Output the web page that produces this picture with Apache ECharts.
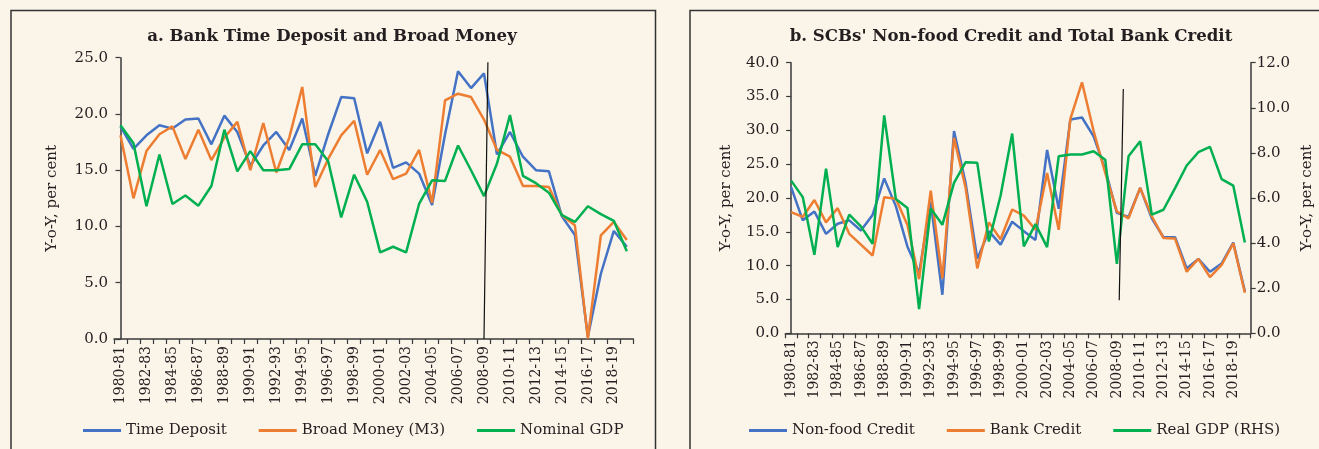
<!DOCTYPE html>
<html>
<head>
<meta charset="utf-8">
<script src="https://cdn.jsdelivr.net/npm/echarts@6/dist/echarts.min.js"></script>
<style>
  html, body { margin: 0; padding: 0; background: #faf4e9; }
  #chart { width: 1319px; height: 449px; }
</style>
</head>
<body>
<div id="chart"></div>
<script>
/* ============================================================
   Two panels: a. time deposit / M3 / nominal GDP
               b. non-food credit / bank credit / real GDP (RHS)
   ============================================================ */

var years = [
  "1980-81","1981-82","1982-83","1983-84","1984-85","1985-86","1986-87","1987-88",
  "1988-89","1989-90","1990-91","1991-92","1992-93","1993-94","1994-95","1995-96",
  "1996-97","1997-98","1998-99","1999-00","2000-01","2001-02","2002-03","2003-04",
  "2004-05","2005-06","2006-07","2007-08","2008-09","2009-10","2010-11","2011-12",
  "2012-13","2013-14","2014-15","2015-16","2016-17","2017-18","2018-19","2019-20"
];

// ---- panel a (per cent) ----
var timeDeposit = [18.9,16.9,18.1,19.0,18.7,19.5,19.6,17.3,19.85,18.4,15.4,17.2,18.4,16.8,19.6,14.5,18.2,21.5,21.4,16.5,
                   19.3,15.2,15.7,14.7,11.9,18.2,23.8,22.3,23.6,16.4,18.4,16.2,15.0,14.9,10.9,9.25,0.2,5.8,9.6,8.2];
var broadMoney  = [18.1,12.5,16.7,18.2,18.9,16.0,18.6,15.9,17.9,19.3,15.0,19.2,14.8,17.9,22.4,13.5,16.0,18.1,19.4,14.6,
                   16.8,14.2,14.7,16.8,12.1,21.2,21.8,21.5,19.5,16.8,16.2,13.6,13.6,13.5,11.0,10.1,0.05,9.2,10.4,8.8];
var nominalGdp  = [19.0,17.4,11.8,16.4,12.0,12.75,11.85,13.6,18.6,14.9,16.7,15.0,15.0,15.1,17.3,17.3,15.8,10.8,14.6,12.2,
                   7.7,8.2,7.7,12.0,14.1,14.05,17.2,15.0,12.7,15.6,19.9,14.5,13.85,13.0,11.0,10.4,11.8,11.1,10.5,7.8];
var breakLineA  = [[28.3, 24.6], [28.0, 0]];   // [category position, value]

// ---- panel b ----
var nonFoodCredit = [21.6,16.7,18.0,14.7,16.2,16.7,15.2,17.5,22.9,18.8,12.8,8.9,19.4,5.7,29.9,22.2,11.0,15.1,13.1,16.5,
                     15.1,13.8,27.1,18.4,31.6,31.9,29.1,24.2,17.8,17.2,21.5,17.0,14.2,14.2,9.6,11.0,9.1,10.3,13.4,6.2];
var bankCredit    = [17.9,17.2,19.7,16.4,18.5,14.7,13.1,11.5,20.1,19.9,16.0,8.0,21.1,8.1,28.9,21.5,9.6,16.4,13.9,18.3,
                     17.4,15.3,23.7,15.3,31.7,37.1,29.9,23.7,18.0,17.0,21.5,17.3,14.1,14.0,9.1,11.0,8.3,10.1,13.3,6.0];
var realGdp       = [6.77,6.04,3.48,7.3,3.82,5.26,4.74,3.97,9.66,5.96,5.56,1.07,5.53,4.81,6.67,7.59,7.56,4.07,6.1,8.86,
                     3.85,4.84,3.82,7.85,7.93,7.93,8.07,7.70,3.08,7.85,8.52,5.26,5.48,6.44,7.44,8.03,8.27,6.84,6.55,4.03];
var breakLineB    = [[28.55, 36.1], [28.2, 4.9]];

var legendA = ["Time Deposit", "Broad Money (M3)", "Nominal GDP"];
var legendB = ["Non-food Credit", "Bank Credit", "Real GDP (RHS)"];

var FONT = "'DejaVu Serif', 'Liberation Serif', serif";
var INK = "#231f20";
var AXIS = "#3a3a3a";
var BLUE = "#4472c4", ORANGE = "#ed7d31", GREEN = "#00b050";

function catAxis(gridIndex) {
  return {
    type: "category", gridIndex: gridIndex, data: years, boundaryGap: true,
    axisLine: { lineStyle: { color: AXIS, width: 1.5 } },
    axisTick: { show: true, interval: 0, length: 5, lineStyle: { color: AXIS, width: 1.2 } },
    axisLabel: { rotate: 90, interval: 1, margin: 7, fontSize: 14, color: INK, fontFamily: FONT },
    splitLine: { show: false }
  };
}
function hiddenValX(gridIndex) {
  return { type: "value", gridIndex: gridIndex, min: -0.5, max: 39.5, show: false };
}
function valAxis(gridIndex, max, interval, pos, gap) {
  return {
    type: "value", gridIndex: gridIndex, position: pos, min: 0, max: max, interval: interval,
    name: "Y-o-Y, per cent", nameLocation: "middle", nameGap: gap, nameRotate: 90,
    nameTextStyle: { fontSize: 15, color: INK, fontFamily: FONT },
    axisLine: { show: true, lineStyle: { color: AXIS, width: 1.5 } },
    axisTick: { show: true, length: 5, lineStyle: { color: AXIS, width: 1.2 } },
    axisLabel: { fontSize: 15, color: INK, fontFamily: FONT, margin: 6,
                 formatter: function (v) { return v.toFixed(1); } },
    splitLine: { show: false }
  };
}
function lineSeries(name, data, color, xi, yi) {
  return {
    type: "line", name: name, data: data, xAxisIndex: xi, yAxisIndex: yi,
    symbol: "none", lineStyle: { color: color, width: 2.5 }, itemStyle: { color: color },
    z: 3
  };
}
function breakSeries(data, xi, yi) {
  return {
    type: "line", name: "break", data: data, xAxisIndex: xi, yAxisIndex: yi,
    symbol: "none", lineStyle: { color: "#111", width: 1.2 }, z: 4
  };
}
function legendFor(names, left) {
  return {
    data: names, left: left, top: 423, padding: 0, icon: "rect",
    itemWidth: 38, itemHeight: 3, itemGap: 32,
    textStyle: { fontSize: 15, color: INK, fontFamily: FONT }
  };
}

var chart = echarts.init(document.getElementById("chart"), null, { renderer: "canvas" });

chart.setOption({
  backgroundColor: "#faf4e9",
  animation: false,
  textStyle: { fontFamily: FONT },
  graphic: [
    { type: "rect", shape: { x: 11, y: 10.5, width: 644.5, height: 460 },
      style: { fill: "none", stroke: "#333", lineWidth: 1.5 }, silent: true },
    { type: "rect", shape: { x: 690, y: 10.5, width: 660, height: 460 },
      style: { fill: "none", stroke: "#333", lineWidth: 1.5 }, silent: true }
  ],
  title: [
    { text: "a. Bank Time Deposit and Broad Money", left: 327, top: 23, textAlign: "center",
      textStyle: { fontSize: 16.6, fontWeight: "bold", color: INK, fontFamily: FONT } },
    { text: "b. SCBs' Non-food Credit and Total Bank Credit", left: 1006, top: 23, textAlign: "center",
      textStyle: { fontSize: 16.6, fontWeight: "bold", color: INK, fontFamily: FONT } }
  ],
  legend: [legendFor(legendA, 83), legendFor(legendB, 749)],
  grid: [
    { left: 114, top: 57.7, width: 519.3, height: 281.3 },
    { left: 785.3, top: 62.7, width: 465.4, height: 270.6 }
  ],
  xAxis: [catAxis(0), hiddenValX(0), catAxis(1), hiddenValX(1)],
  yAxis: [
    valAxis(0, 25, 5, "left", 54),
    valAxis(1, 40, 5, "left", 52),
    valAxis(1, 12, 2, "right", 49)
  ],
  series: [
    lineSeries(legendA[0], timeDeposit, BLUE, 0, 0),
    lineSeries(legendA[1], broadMoney, ORANGE, 0, 0),
    lineSeries(legendA[2], nominalGdp, GREEN, 0, 0),
    breakSeries(breakLineA, 1, 0),
    lineSeries(legendB[0], nonFoodCredit, BLUE, 2, 1),
    lineSeries(legendB[1], bankCredit, ORANGE, 2, 1),
    lineSeries(legendB[2], realGdp, GREEN, 2, 2),
    breakSeries(breakLineB, 3, 1)
  ]
});
</script>
</body>
</html>
